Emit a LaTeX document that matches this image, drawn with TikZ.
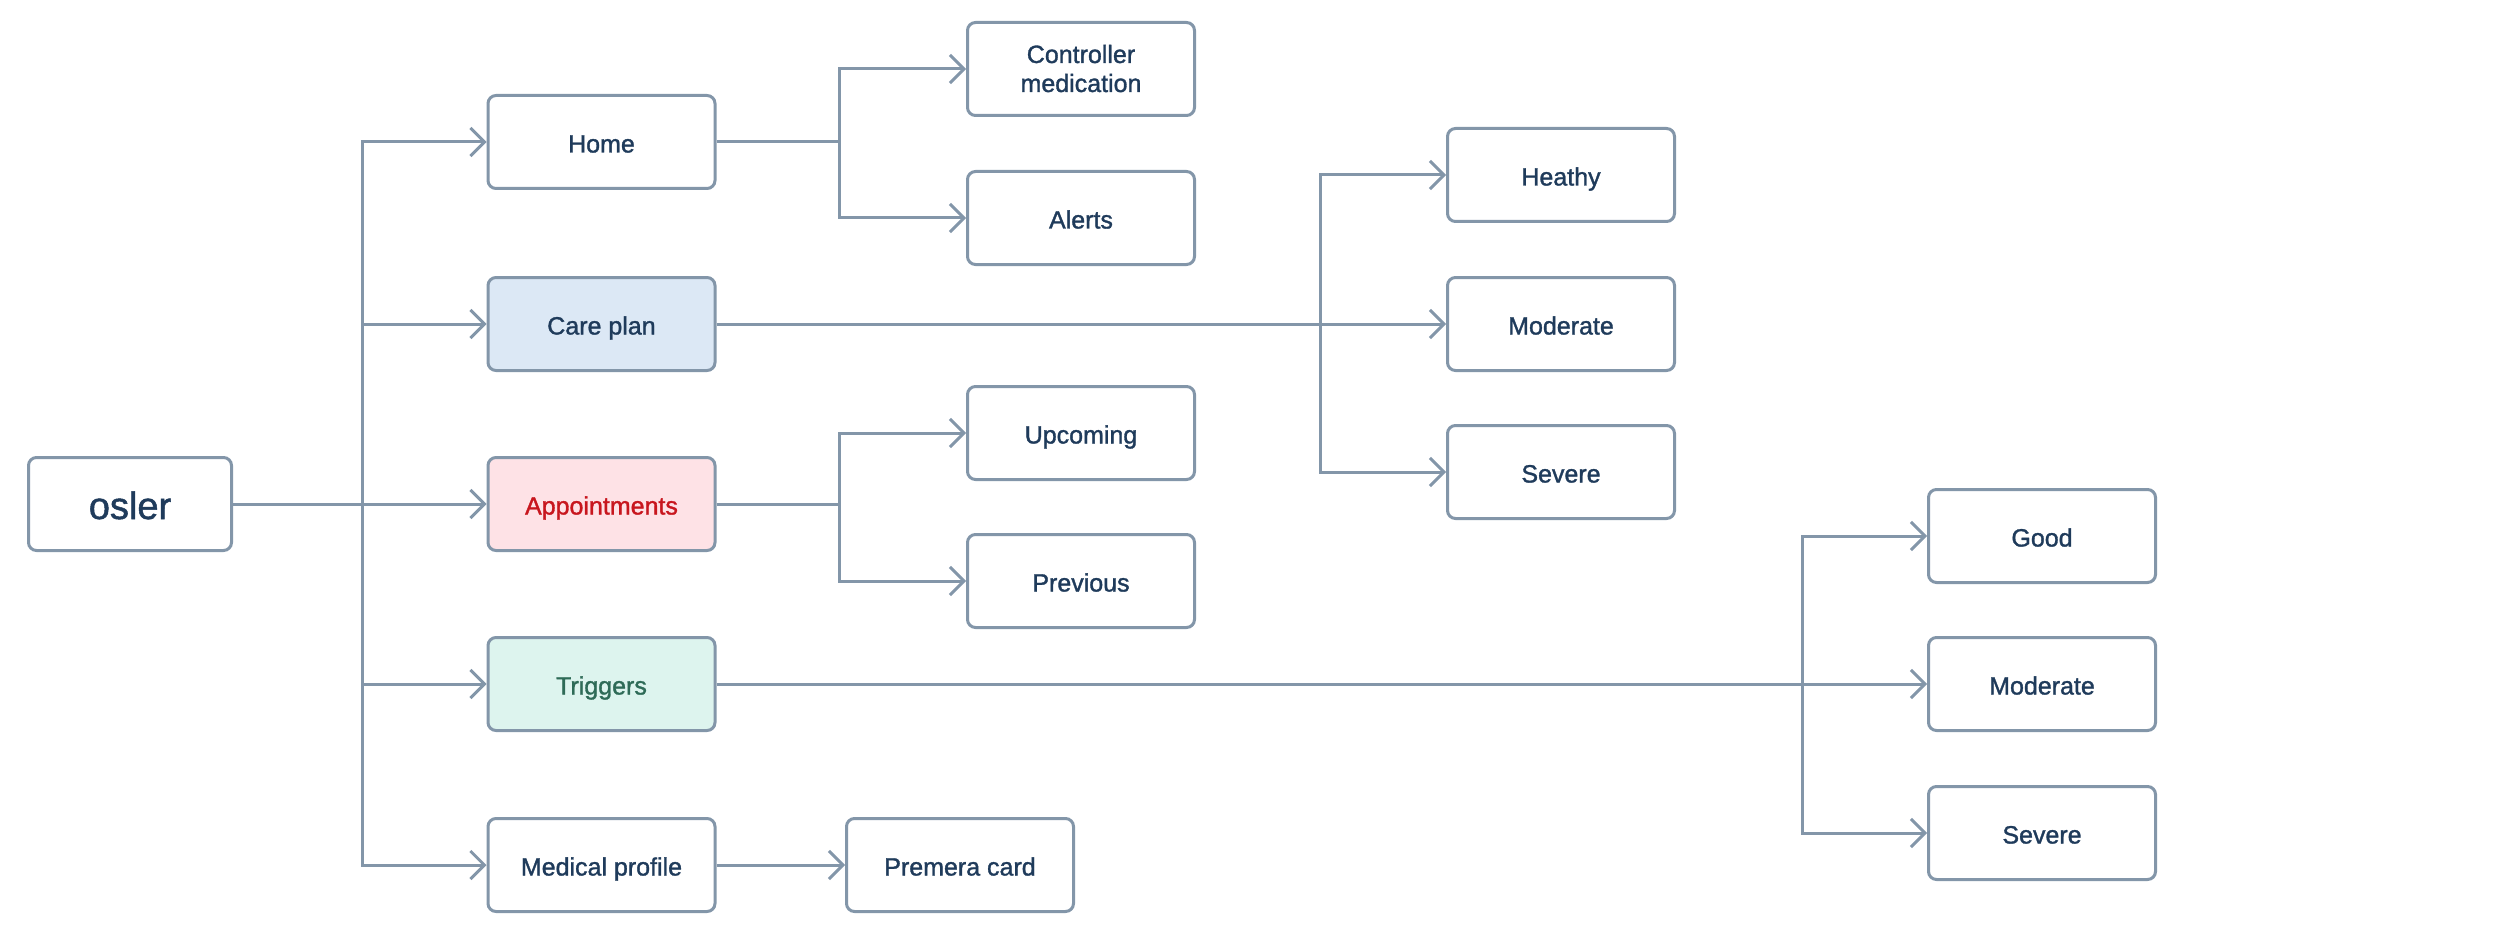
\documentclass[tikz,border=0pt]{standalone}
\usepackage{fontspec}
\setmainfont{Liberation Sans}
\newfontfamily\medf{Liberation Sans}[FakeBold=1.3]
\usetikzlibrary{arrows.meta}
\definecolor{edge}{HTML}{8396A9}
\definecolor{ink}{HTML}{1F3B5B}
\definecolor{careF}{HTML}{DCE8F5}
\definecolor{apptF}{HTML}{FEE2E6}
\definecolor{apptT}{HTML}{C8161E}
\definecolor{trigF}{HTML}{DDF4EE}
\definecolor{trigT}{HTML}{2E6B57}
\begin{document}
\begin{tikzpicture}[x=1pt,y=-1pt,
 box/.style={draw=edge, line width=3pt, rounded corners=8pt, minimum width=227pt, minimum height=93pt, inner sep=0pt, align=center, text=ink, font=\medf\fontsize{25}{29}\selectfont, fill=white, text height=21pt, text depth=0pt},
 link/.style={draw=edge, line width=3pt},
 arr/.style={link, -{Straight Barb[length=14pt,width=28pt,line width=3pt]}}]
\useasboundingbox (0,0) rectangle (2500,936);
\node[box, minimum width=203pt, text height=30pt, font=\medf\fontsize{38}{44}\selectfont] (osler) at (130,504) {osler};
\node[box] (home) at (601.5,142) {Home};
\node[box, fill=careF] (care) at (601.5,324) {Care plan};
\node[box, fill=apptF, text=apptT] (appt) at (601.5,504) {Appointments};
\node[box, fill=trigF, text=trigT] (trig) at (601.5,684) {Triggers};
\node[box] (med) at (601.5,865) {Medical profile};
\node[box, text height=46pt] (ctrl) at (1081,69) {Controller\\medication};
\node[box] (alerts) at (1081,218) {Alerts};
\node[box] (up) at (1081,433) {Upcoming};
\node[box] (prev) at (1081,581) {Previous};
\node[box] (heal) at (1561,175) {Heathy};
\node[box] (cmod) at (1561,324) {Moderate};
\node[box] (csev) at (1561,472) {Severe};
\node[box] (good) at (2042,536) {Good};
\node[box] (tmod) at (2042,684) {Moderate};
\node[box] (tsev) at (2042,833) {Severe};
\node[box] (prem) at (960,865) {Premera card};
\coordinate (t) at (362,504);
\coordinate (j1) at (839,0);
\coordinate (j2) at (1320,0);
\coordinate (j3) at (1802,0);
% trunk
\draw[arr] (osler) -- (appt);
\draw[arr] (t) |- (home);
\draw[arr] (t) |- (care);
\draw[arr] (t) |- (trig);
\draw[arr] (t) |- (med);
% home
\draw[arr] (home) -- (j1|-home) |- (ctrl);
\draw[arr] (home) -- (j1|-home) |- (alerts);
% appointments
\draw[arr] (appt) -- (j1|-appt) |- (up);
\draw[arr] (appt) -- (j1|-appt) |- (prev);
% care plan
\draw[arr] (care) -- (cmod);
\draw[arr] (j2|-cmod) |- (heal);
\draw[arr] (j2|-cmod) |- (csev);
% triggers
\draw[arr] (trig) -- (tmod);
\draw[arr] (j3|-tmod) |- (good);
\draw[arr] (j3|-tmod) |- (tsev);
% medical profile
\draw[arr] (med) -- (prem);
\end{tikzpicture}
\end{document}
